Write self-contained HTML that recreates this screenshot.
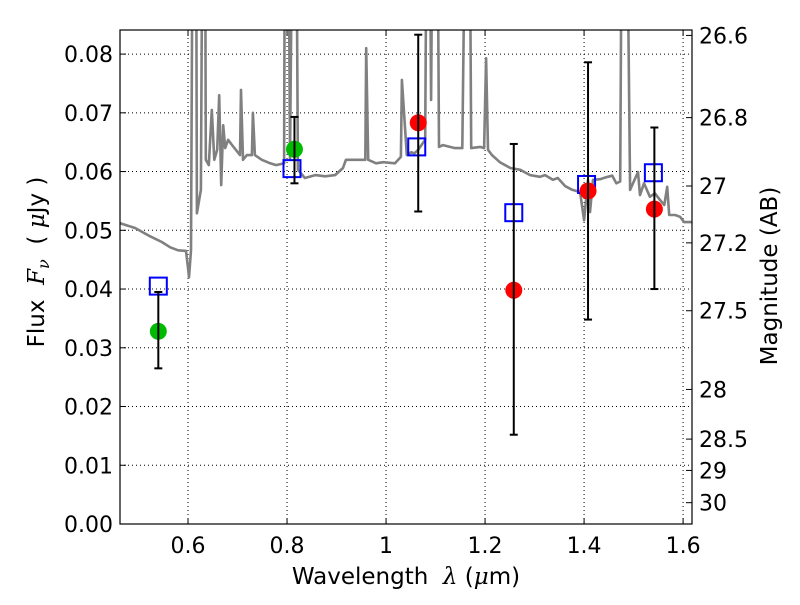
<!DOCTYPE html>
<html><head><meta charset="utf-8"><style>
body{margin:0;background:#fff;}
svg{font-family:"DejaVu Sans","Liberation Sans",sans-serif;}
</style></head><body>
<svg id="chart" width="800" height="600" xmlns="http://www.w3.org/2000/svg"></svg>
<script>
const specLam=[0.463,0.493,0.523,0.547,0.564,0.580,0.596,0.600,0.602,0.606,0.610,0.616,0.618,0.626,0.630,0.634,0.636,0.642,0.648,0.653,0.659,0.663,0.667,0.671,0.675,0.681,0.689,0.705,0.707,0.711,0.719,0.729,0.731,0.735,0.749,0.766,0.778,0.794,0.796,0.802,0.806,0.812,0.818,0.822,0.836,0.857,0.877,0.897,0.913,0.919,0.937,0.958,0.960,0.964,0.980,0.994,1.018,1.030,1.032,1.042,1.051,1.057,1.065,1.079,1.083,1.087,1.091,1.095,1.103,1.107,1.115,1.139,1.154,1.162,1.168,1.172,1.190,1.198,1.202,1.206,1.214,1.230,1.251,1.271,1.291,1.311,1.321,1.337,1.347,1.362,1.376,1.392,1.400,1.408,1.412,1.418,1.432,1.448,1.457,1.465,1.473,1.477,1.485,1.493,1.509,1.513,1.521,1.533,1.543,1.554,1.562,1.568,1.572,1.584,1.594,1.602,1.618];
const specFlux=[0.0512,0.0504,0.0490,0.0480,0.0471,0.0466,0.0465,0.0436,0.0420,0.0466,0.12,0.12,0.0529,0.0569,0.12,0.12,0.0620,0.0611,0.0705,0.0620,0.0637,0.0730,0.0577,0.0679,0.0640,0.0654,0.0645,0.0628,0.0739,0.0620,0.0628,0.0628,0.0700,0.0628,0.0620,0.0614,0.0611,0.0614,0.12,0.12,0.0620,0.12,0.12,0.0603,0.0589,0.0594,0.0592,0.0594,0.0606,0.0620,0.0620,0.0620,0.0810,0.0620,0.0614,0.0616,0.0614,0.0625,0.0756,0.0628,0.0633,0.0631,0.0637,0.0654,0.12,0.12,0.0722,0.12,0.12,0.0642,0.0645,0.0640,0.0640,0.12,0.12,0.0640,0.0642,0.0640,0.0793,0.0637,0.0628,0.0616,0.0606,0.0603,0.0594,0.0591,0.0594,0.0586,0.0589,0.0575,0.0569,0.0565,0.0517,0.0586,0.0531,0.0586,0.0587,0.0591,0.0593,0.0580,0.0583,0.12,0.12,0.0569,0.0599,0.0560,0.0580,0.0557,0.0563,0.0551,0.0543,0.0574,0.0526,0.0526,0.0523,0.0514,0.0514];
const obsLam=[0.54,0.815,1.065,1.258,1.408,1.542];
const obsFlux=[0.0328,0.0638,0.0683,0.0398,0.0567,0.0536];
const obsLo=[0.0265,0.0580,0.0532,0.0152,0.0348,0.0400];
const obsHi=[0.0395,0.0693,0.0833,0.0647,0.0786,0.0675];
const obsColor=["#00bb00","#00bb00","#ff0000","#ff0000","#ff0000","#ff0000"];
const modLam=[0.54,0.81,1.062,1.258,1.405,1.54];
const modFlux=[0.0405,0.0605,0.0642,0.0530,0.0578,0.0598];
const xTicks=[0.6,0.8,1.0,1.2,1.4,1.6];
const xTickLabels=["0.6","0.8","1","1.2","1.4","1.6"];
const yTicks=[0,0.01,0.02,0.03,0.04,0.05,0.06,0.07,0.08];
const yTickLabels=["0.00","0.01","0.02","0.03","0.04","0.05","0.06","0.07","0.08"];
const magTicks=[26.6,26.8,27,27.2,27.5,28,28.5,29,30];
const magTickLabels=["26.6","26.8","27","27.2","27.5","28","28.5","29","30"];

const L=120,R=692,T=30,B=524,xmin=0.4626,xmax=1.618,ymin=0,ymax=0.0841;
const X=v=>L+(v-xmin)/(xmax-xmin)*(R-L);
const Y=v=>B-(v-ymin)/(ymax-ymin)*(B-T);
const NS="http://www.w3.org/2000/svg";
const svg=document.getElementById('chart');
function mk(tag,attrs,parent){const e=document.createElementNS(NS,tag);for(const k in attrs)e.setAttribute(k,attrs[k]);(parent||svg).appendChild(e);return e;}
const defs=mk('defs',{});
const cp=mk('clipPath',{id:'clip'},defs);mk('rect',{x:L,y:T,width:R-L,height:B-T},cp);

xTicks.forEach((v,i)=>{
 const g=mk('line',{x1:X(v),x2:X(v),y1:T,y2:B,stroke:'#000','stroke-width':1,'stroke-dasharray':'1,3'});
 
 
 mk('line',{x1:X(v),x2:X(v),y1:B,y2:B-6,stroke:'#000'});
 mk('line',{x1:X(v),x2:X(v),y1:T,y2:T+6,stroke:'#000'});
 const t=mk('text',{x:X(v),y:B+29,'text-anchor':'middle','font-size':22});
 t.textContent=xTickLabels[i];
 
 
});
yTicks.forEach((v,i)=>{
 const g=mk('line',{x1:L,x2:R,y1:Y(v),y2:Y(v),stroke:'#000','stroke-width':1,'stroke-dasharray':'1,3'});
 
 
 mk('line',{x1:L,x2:L+6,y1:Y(v),y2:Y(v),stroke:'#000'});
 const t=mk('text',{x:L-7,y:Y(v)+8,'text-anchor':'end','font-size':22});
 t.textContent=yTickLabels[i];
 
 
});
magTicks.forEach((m,i)=>{
 const f=Math.pow(10,(23.9-m)/2.5);
 const y=Y(f);
 mk('line',{x1:R,x2:R-6,y1:y,y2:y,stroke:'#000'});
 const t=mk('text',{x:R+7,y:y+8,'font-size':22});
 t.textContent=magTickLabels[i];
 
 
});

const d=specLam.map((l,i)=>(i?'L':'M')+X(l).toFixed(1)+','+Y(specFlux[i]).toFixed(1)).join('');
const sp=mk('path',{d:d,fill:'none',stroke:'#808080','stroke-width':2.6,'stroke-linejoin':'round','clip-path':'url(#clip)'});



obsLam.forEach((l,i)=>{
 const x=X(l);
 const g=mk('g',{});
 
 
 mk('line',{x1:x-4,x2:x+4,y1:Y(obsLo[i]),y2:Y(obsLo[i]),stroke:'#000','stroke-width':2},g);
 mk('line',{x1:x-4,x2:x+4,y1:Y(obsHi[i]),y2:Y(obsHi[i]),stroke:'#000','stroke-width':2},g);
});
modLam.forEach((l,i)=>{
 const r=mk('rect',{x:X(l)-8.5,y:Y(modFlux[i])-8.5,width:17,height:17,fill:'none',stroke:'#0000ff','stroke-width':2});
 
 
});
obsLam.forEach((l,i)=>{
 const c=mk('circle',{cx:X(l),cy:Y(obsFlux[i]),r:8.5,fill:obsColor[i]});
 
 
});
obsLam.forEach((l,i)=>{
 const x=X(l);
 mk('line',{x1:x,x2:x,y1:Y(obsLo[i]),y2:Y(obsHi[i]),stroke:'#000','stroke-width':2});
});

const fr=mk('rect',{x:L,y:T,width:R-L,height:B-T,fill:'none',stroke:'#000','stroke-width':1.2});



const xl=mk('text',{x:406,y:584,'text-anchor':'middle','font-size':23});
xl.innerHTML='Wavelength&#160;&#160;<tspan font-style="italic" font-family="DejaVu Serif, serif">λ</tspan> (<tspan font-style="italic" font-family="DejaVu Serif, serif">μ</tspan>m)';


const yl=mk('text',{x:0,y:0,'text-anchor':'middle','font-size':23,transform:'translate(44,262) rotate(-90)'});
yl.innerHTML='Flux&#160;&#160;<tspan font-style="italic" font-family="DejaVu Serif, serif">F</tspan><tspan font-size="16" dy="5" font-style="italic" font-family="DejaVu Serif, serif">ν</tspan><tspan dy="-5">&#160;&#160;( </tspan><tspan font-style="italic" font-family="DejaVu Serif, serif">μ</tspan>Jy )';


const rl=mk('text',{x:0,y:0,'text-anchor':'middle','font-size':23,transform:'translate(777,276) rotate(-90)'});
rl.textContent='Magnitude (AB)';


</script>
</body></html>
